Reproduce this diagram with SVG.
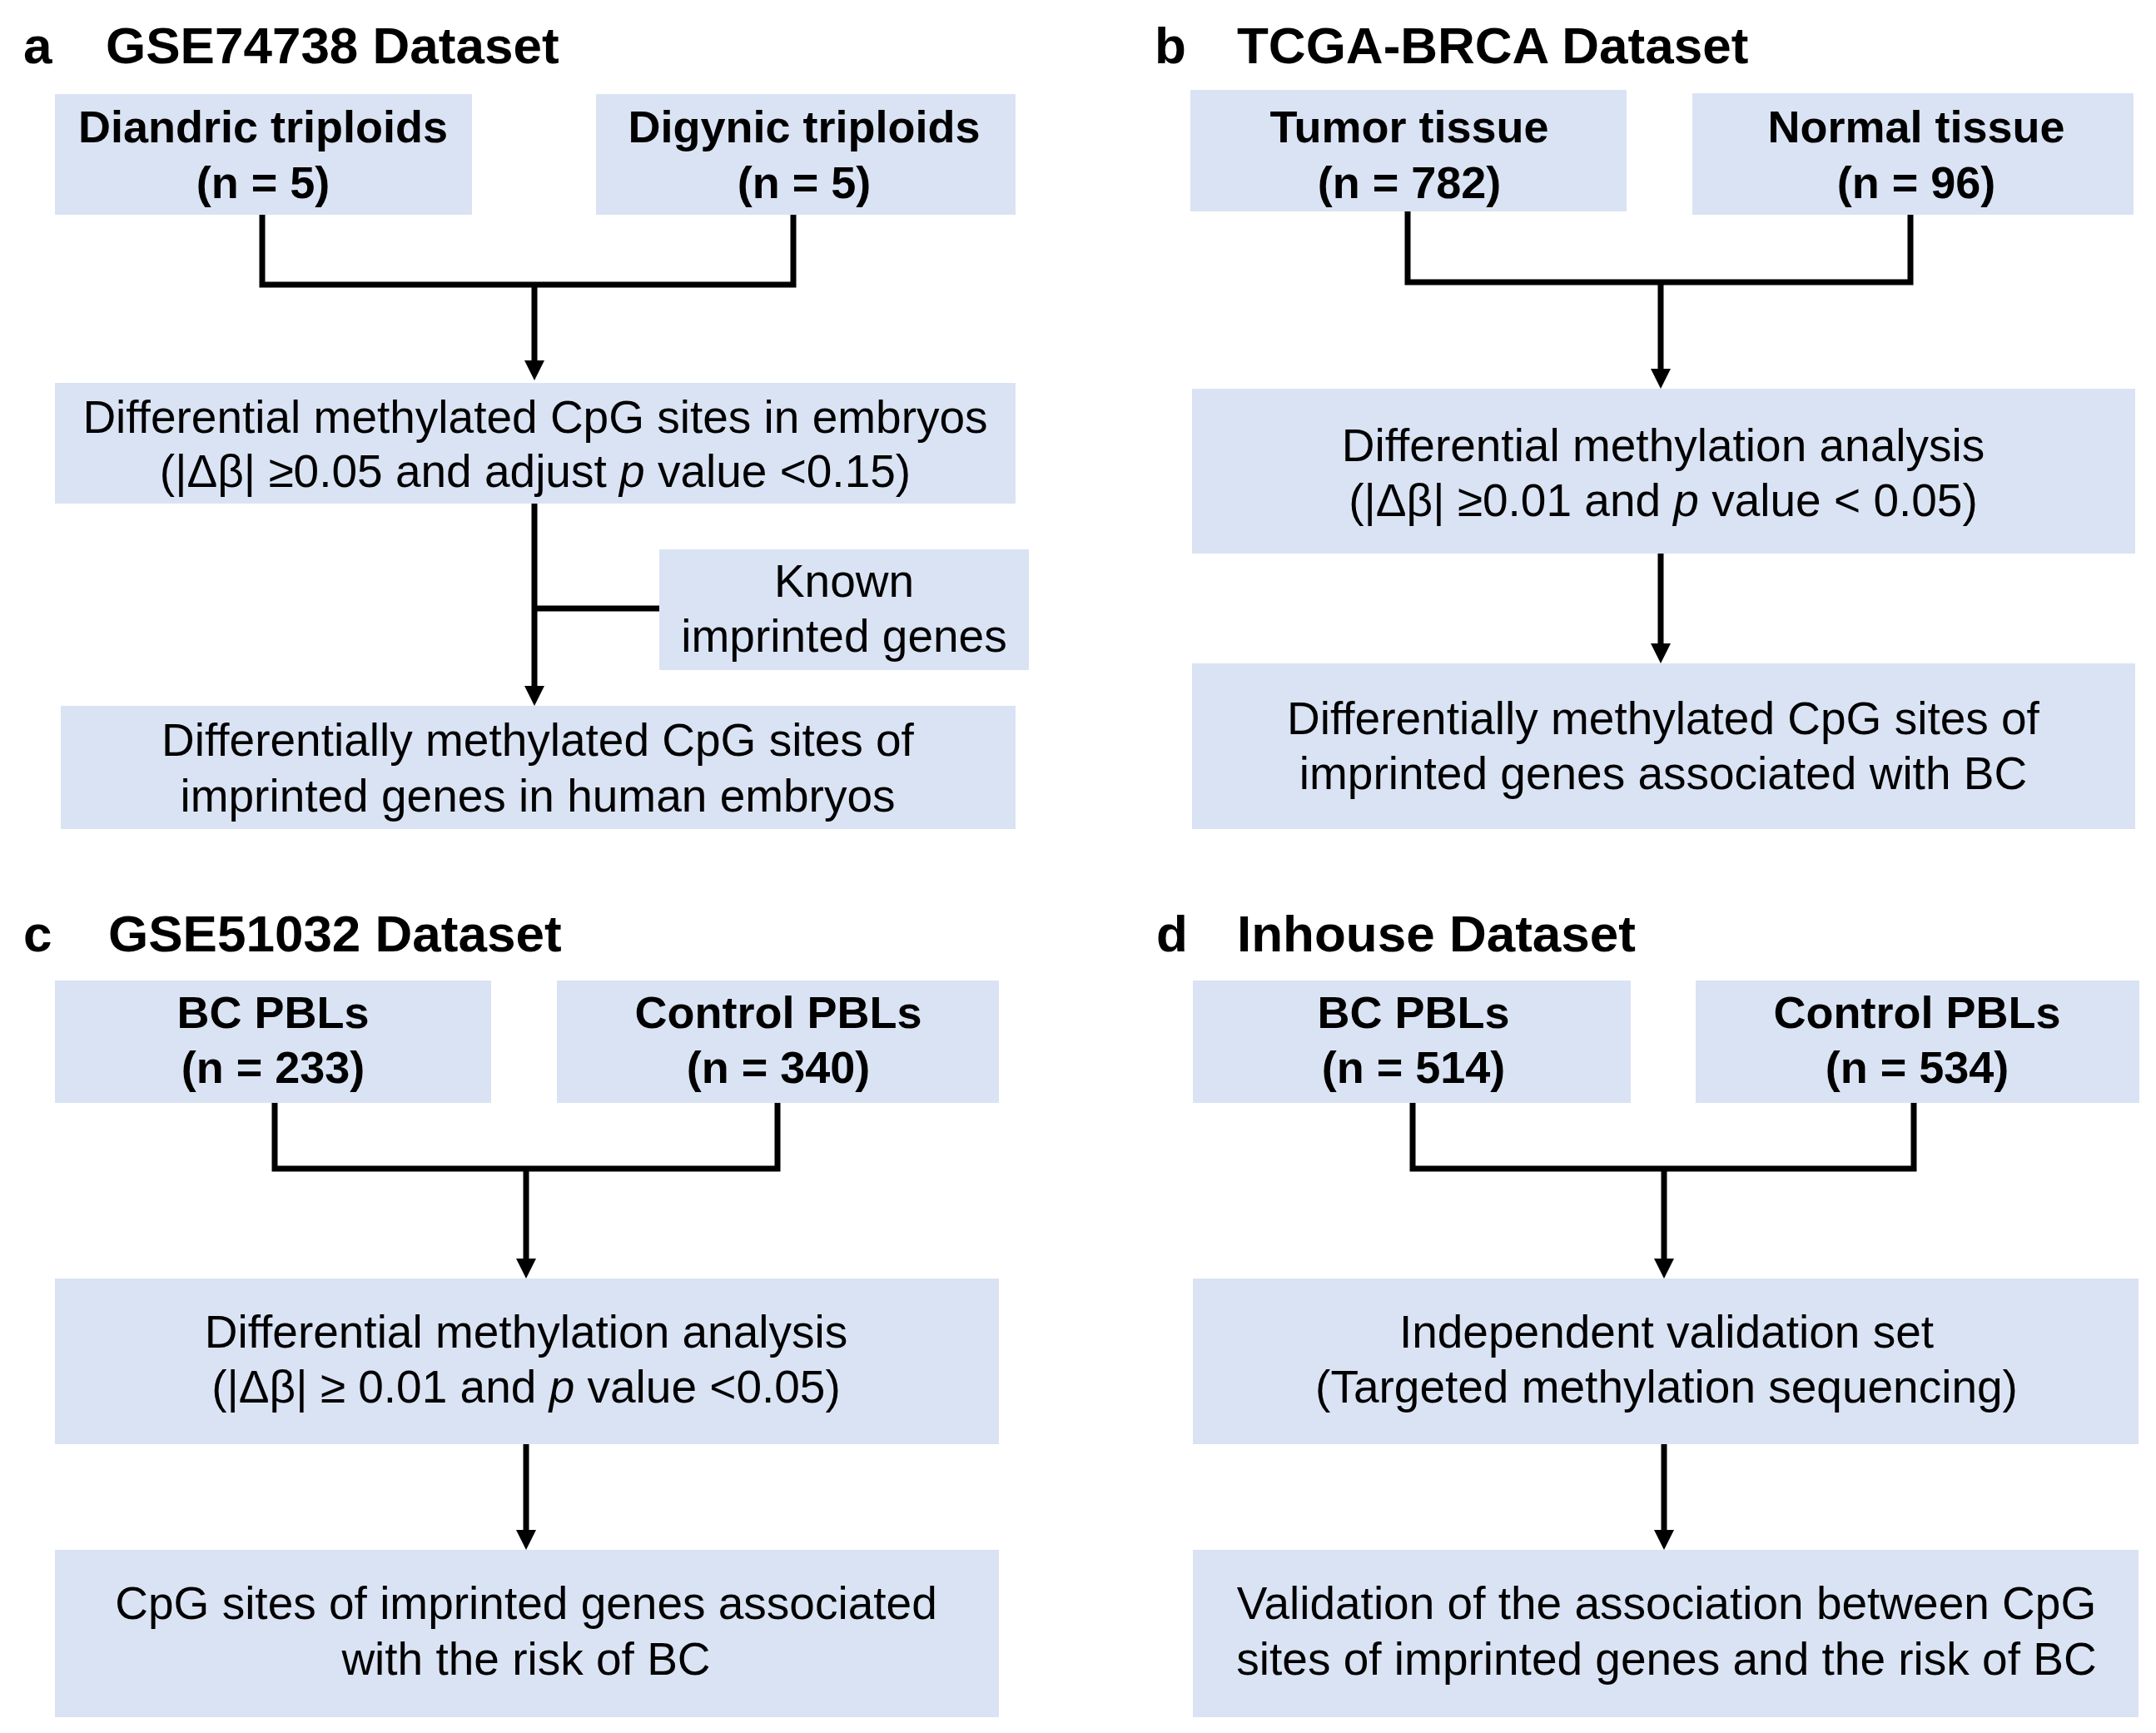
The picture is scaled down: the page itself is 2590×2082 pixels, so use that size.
<svg xmlns="http://www.w3.org/2000/svg" width="2590" height="2082" viewBox="0 0 2590 2082">
<defs>
<style>
.box{fill:#DAE3F3}
.t{font-family:"Liberation Sans",Arial,sans-serif;font-size:55px;fill:#000;text-anchor:middle}
.b{font-family:"Liberation Sans",Arial,sans-serif;font-size:54px;font-weight:bold;fill:#000;text-anchor:middle}
.h{font-family:"Liberation Sans",Arial,sans-serif;font-size:62px;font-weight:bold;fill:#000}
.c{fill:none;stroke:#000;stroke-width:7}
.a{fill:none;stroke:#000;stroke-width:7;marker-end:url(#arr)}
</style>
<marker id="arr" markerUnits="userSpaceOnUse" markerWidth="24" markerHeight="24" viewBox="0 0 24 24" refX="4" refY="12" orient="auto">
<path d="M0,0 L24,12 L0,24 z" fill="#000"/>
</marker>
</defs>
<rect width="2590" height="2082" fill="#fff"/>

<g id="titles">
<text class="h" x="28" y="76">a</text>
<text class="h" x="127" y="76">GSE74738 Dataset</text>
<text class="h" x="1387" y="76">b</text>
<text class="h" x="1486" y="76">TCGA-BRCA Dataset</text>
<text class="h" x="28" y="1143">c</text>
<text class="h" x="130" y="1143">GSE51032 Dataset</text>
<text class="h" x="1389" y="1143">d</text>
<text class="h" x="1486" y="1143">Inhouse Dataset</text>
</g>

<g id="connectors">
<path class="c" d="M315,258 V342 H953 V258"/>
<path class="a" d="M642,342 V437"/>
<path class="a" d="M642,605 V828"/>
<path class="c" d="M642,731 H792"/>
<path class="c" d="M1691,254 V339 H2295 V258"/>
<path class="a" d="M1995,339 V447"/>
<path class="a" d="M1995,665 V777"/>
<path class="c" d="M330,1325 V1404 H934 V1325"/>
<path class="a" d="M632,1404 V1516"/>
<path class="a" d="M632,1735 V1842"/>
<path class="c" d="M1697,1325 V1404 H2299 V1325"/>
<path class="a" d="M1999,1404 V1516"/>
<path class="a" d="M1999,1735 V1842"/>
</g>

<g id="a1"><rect class="box" x="66" y="113" width="501" height="145"/>
<text class="b" x="316" y="171">Diandric triploids</text><text class="b" x="316" y="238">(n = 5)</text></g>
<g id="a2"><rect class="box" x="716" y="113" width="504" height="145"/>
<text class="b" x="966" y="171">Digynic triploids</text><text class="b" x="966" y="238">(n = 5)</text></g>
<g id="a3"><rect class="box" x="66" y="460" width="1154" height="145"/>
<text class="t" x="643" y="520">Differential methylated CpG sites in embryos</text>
<text class="t" x="643" y="585">(|Δβ| ≥0.05 and adjust <tspan font-style="italic">p</tspan> value &lt;0.15)</text></g>
<g id="a4"><rect class="box" x="792" y="660" width="444" height="145"/>
<text class="t" x="1014" y="717">Known</text><text class="t" x="1014" y="783">imprinted genes</text></g>
<g id="a5"><rect class="box" x="73" y="848" width="1147" height="148"/>
<text class="t" x="646" y="908">Differentially methylated CpG sites of</text>
<text class="t" x="646" y="975">imprinted genes in human embryos</text></g>

<g id="b1"><rect class="box" x="1430" y="108" width="524" height="146"/>
<text class="b" x="1693" y="171">Tumor tissue</text><text class="b" x="1693" y="238">(n = 782)</text></g>
<g id="b2"><rect class="box" x="2033" y="112" width="530" height="146"/>
<text class="b" x="2302" y="171">Normal tissue</text><text class="b" x="2302" y="238">(n = 96)</text></g>
<g id="b3"><rect class="box" x="1432" y="467" width="1133" height="198"/>
<text class="t" x="1998" y="554">Differential methylation analysis</text>
<text class="t" x="1998" y="620">(|Δβ| ≥0.01 and <tspan font-style="italic">p</tspan> value &lt; 0.05)</text></g>
<g id="b4"><rect class="box" x="1432" y="797" width="1133" height="199"/>
<text class="t" x="1998" y="882">Differentially methylated CpG sites of</text>
<text class="t" x="1998" y="948">imprinted genes associated with BC</text></g>

<g id="c1"><rect class="box" x="66" y="1178" width="524" height="147"/>
<text class="b" x="328" y="1235">BC PBLs</text><text class="b" x="328" y="1301">(n = 233)</text></g>
<g id="c2"><rect class="box" x="669" y="1178" width="531" height="147"/>
<text class="b" x="935" y="1235">Control PBLs</text><text class="b" x="935" y="1301">(n = 340)</text></g>
<g id="c3"><rect class="box" x="66" y="1536" width="1134" height="199"/>
<text class="t" x="632" y="1619">Differential methylation analysis</text>
<text class="t" x="632" y="1685">(|Δβ| ≥ 0.01 and <tspan font-style="italic">p</tspan> value &lt;0.05)</text></g>
<g id="c4"><rect class="box" x="66" y="1862" width="1134" height="201"/>
<text class="t" x="632" y="1945">CpG sites of imprinted genes associated</text>
<text class="t" x="632" y="2012">with the risk of BC</text></g>

<g id="d1"><rect class="box" x="1433" y="1178" width="526" height="147"/>
<text class="b" x="1698" y="1235">BC PBLs</text><text class="b" x="1698" y="1301">(n = 514)</text></g>
<g id="d2"><rect class="box" x="2037" y="1178" width="533" height="147"/>
<text class="b" x="2303" y="1235">Control PBLs</text><text class="b" x="2303" y="1301">(n = 534)</text></g>
<g id="d3"><rect class="box" x="1433" y="1536" width="1136" height="199"/>
<text class="t" x="2002" y="1619">Independent validation set</text>
<text class="t" x="2002" y="1685">(Targeted methylation sequencing)</text></g>
<g id="d4"><rect class="box" x="1433" y="1862" width="1136" height="201"/>
<text class="t" x="2002" y="1945">Validation of the association between CpG</text>
<text class="t" x="2002" y="2012">sites of imprinted genes and the risk of BC</text></g>
</svg>
